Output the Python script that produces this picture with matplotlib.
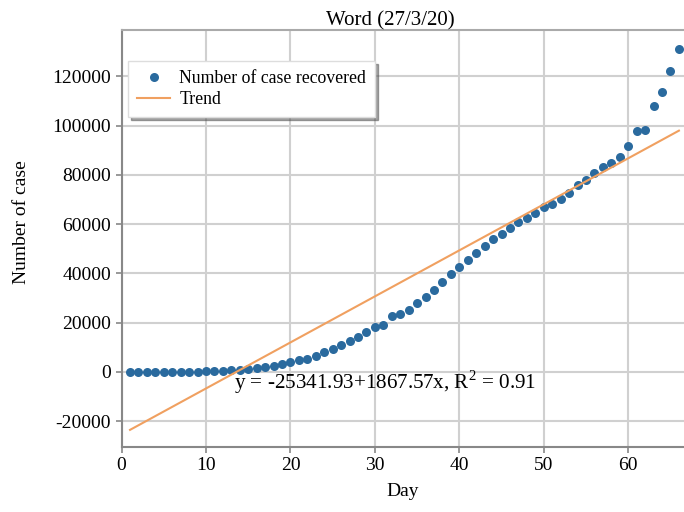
import matplotlib
matplotlib.use("Agg")
import matplotlib.pyplot as plt
import numpy as np

days = list(range(1, 67))
recovered = [28, 30, 36, 39, 52, 61, 107, 126, 143, 222, 284, 472, 623, 852, 1124,
             1487, 2011, 2616, 3244, 3946, 4683, 5150, 6295, 8058, 9395, 10865, 12583,
             14352, 16121, 18177, 18890, 22886, 23394, 25227, 27905, 30384, 33277,
             36711, 39782, 42716, 45602, 48228, 51170, 53796, 55865, 58358, 60694,
             62494, 64404, 67003, 68324, 70251, 72624, 76034, 78088, 80840, 83312,
             84975, 87420, 91692, 97899, 98351, 108000, 113787, 122150, 130915]
intercept = -25341.93
slope = 1867.57
r2 = 0.91
x_ticks = [0, 10, 20, 30, 40, 50, 60]
y_ticks = [-20000, 0, 20000, 40000, 60000, 80000, 100000, 120000]

plt.rcParams['font.family'] = ['Liberation Serif', 'DejaVu Serif']
plt.rcParams['axes.unicode_minus'] = False
plt.rcParams['mathtext.fontset'] = 'custom'
plt.rcParams['mathtext.rm'] = 'Liberation Serif'

fig = plt.figure(figsize=(6.84, 5.12), dpi=100)
ax = fig.add_axes([121.6/684, 1-447/512, 1-121.6/684, (447-30)/512])

ax.grid(True, color='#d0d0d0', linewidth=1.5, zorder=0)
ax.set_axisbelow(True)

ax.plot(days, recovered, 'o', color='#2a6a9e', markersize=6.5, markeredgewidth=0,
        label='Number of case recovered', zorder=3)
xl = np.array([days[0], days[-1]])
ax.plot(xl, intercept + slope * xl, color='#f0a060', linewidth=1.5, label='Trend', zorder=4)

ax.text(13.3, -4300, f'y = {intercept:.2f}+{slope:.2f}x, R$^{{2}}$ = {r2:.2f}',
        fontsize=15.2, va='center', ha='left', zorder=5)

ax.set_xlim(0, 66.6)
ax.set_ylim(-30430, 138750)
ax.set_xticks(x_ticks)
ax.set_yticks(y_ticks)
ax.tick_params(labelsize=14, colors='#888888', labelcolor='black', length=4, width=1.2)
for s in ['left', 'bottom']:
    ax.spines[s].set_color('#888888')
    ax.spines[s].set_linewidth(1.5)
ax.spines['top'].set_color('#aaaaaa')
ax.spines['top'].set_linewidth(1.5)
ax.spines['right'].set_visible(False)

ax.set_xlabel('Day', fontsize=14, labelpad=6)
ax.set_ylabel('Number of case', fontsize=14)
ax.yaxis.set_label_coords(-0.163, 0.54)
ax.set_title('Word (27/3/20)', fontsize=15, pad=2, x=0.477)

leg = ax.legend(loc='upper left', bbox_to_anchor=(0.011, 0.925), fontsize=12.8,
                shadow=True, fancybox=False, framealpha=1, edgecolor='#dddddd',
                handlelength=1.9, handletextpad=0.5, borderpad=0.5, labelspacing=0.22,
                borderaxespad=0)

fig.savefig('out.png', dpi=100)
